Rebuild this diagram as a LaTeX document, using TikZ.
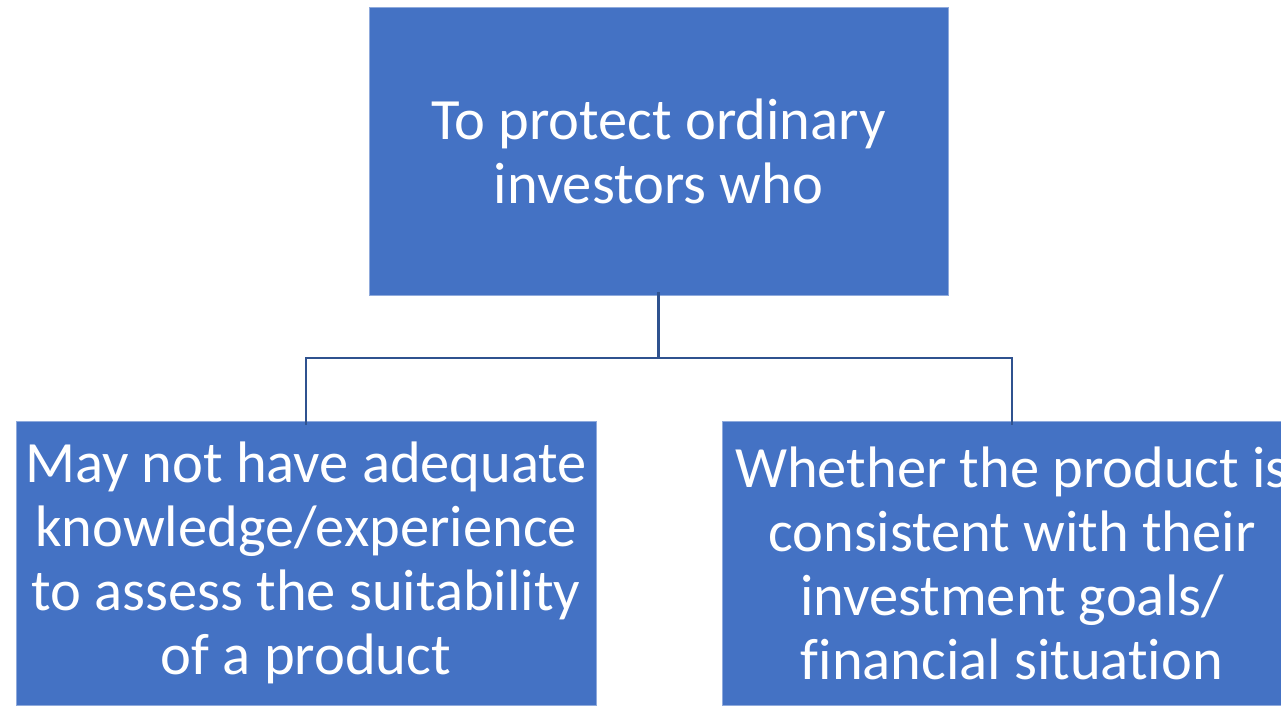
\documentclass[tikz,border=0pt]{standalone}
\usepackage{fontspec}
\setmainfont[Ligatures=NoCommon]{Carlito}
\definecolor{boxblue}{HTML}{4472C4}
\definecolor{boxedge}{HTML}{8FAADC}
\definecolor{linkblue}{HTML}{2F528F}
\begin{document}
\begin{tikzpicture}[x=1pt,y=-1pt,
  box/.style={rectangle, fill=boxblue, draw=boxedge, line width=0.8pt, inner sep=0pt,
    text=white, align=center, font=\fontsize{58.5}{64}\selectfont},
  link/.style={draw=linkblue, line width=2.2pt}]
\useasboundingbox (0,0) rectangle (1281,706);
\node[box, minimum width=579pt, minimum height=288pt] (top) at (658.5,151)
  {To protect ordinary\\investors who};
\node[box, minimum width=580pt, minimum height=284pt] (left) at (306,563)
  {May not have adequate\\knowledge/experience\\to assess the suitability\\of a product};
\node[box, minimum width=580pt, minimum height=284pt] (right) at (1012,563)
  {Whether the product is\\consistent with their\\investment goals/\\financial situation};
\coordinate (mid) at (658.5,358);
\draw[link] ([yshift=3pt]top.south) -- (mid) -| ([yshift=-4pt]left.north);
\draw[link] (mid) -| ([yshift=-4pt]right.north);
\end{tikzpicture}
\end{document}
